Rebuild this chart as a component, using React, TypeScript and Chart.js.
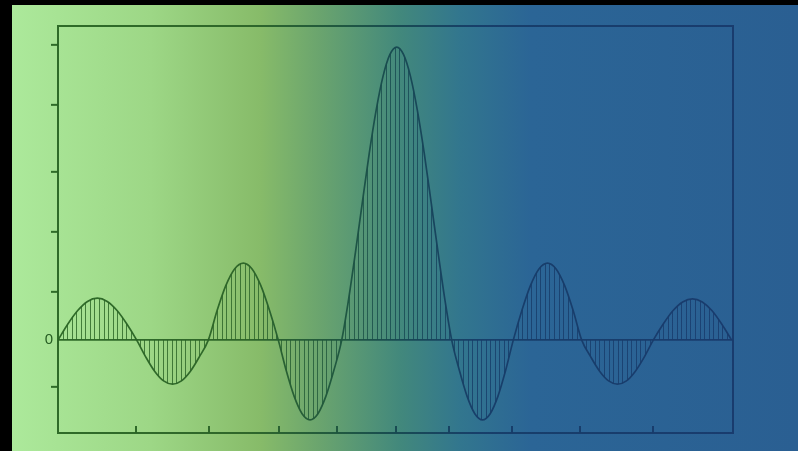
import React, { useEffect, useRef } from 'react';
import { Chart, registerables } from 'chart.js';

Chart.register(...registerables);

// x positions (0..100 across the frame) and curve values (main peak = 1)
const xValues = [
  0, 1.46, 2.92, 4.37, 5.83, 7.29, 8.75, 10.2,
  11.66, 12.99, 14.31, 15.64, 16.97, 18.29, 19.62, 20.94,
  22.27, 23.57, 24.86, 26.16, 27.46, 28.75, 30.05, 31.34,
  32.64, 33.81, 34.99, 36.16, 37.34, 38.51, 39.68, 40.86,
  42.03, 43.05, 44.07, 45.09, 46.11, 47.13, 48.15, 49.16, 50.18, 51.2, 52.22, 53.24, 54.26, 55.28, 56.3, 57.31,
  58.33, 59.47, 60.61, 61.75, 62.89, 64.03, 65.17, 66.31,
  67.45, 68.72, 69.99, 71.25, 72.52, 73.79, 75.06, 76.32,
  77.59, 78.92, 80.24, 81.57, 82.89, 84.22, 85.54, 86.87,
  88.19, 89.64, 91.09, 92.54, 94.0, 95.45, 96.9, 98.35, 99.8,
];
const yValues = [
  0, 0.055, 0.101, 0.132, 0.143, 0.132, 0.101, 0.055,
  0, -0.057, -0.106, -0.139, -0.15, -0.139, -0.106, -0.057,
  0, 0.101, 0.186, 0.243, 0.263, 0.243, 0.186, 0.101,
  0, -0.104, -0.192, -0.251, -0.272, -0.251, -0.192, -0.104,
  0, 0.139, 0.3, 0.47, 0.637, 0.784, 0.9, 0.974, 1.0, 0.974, 0.9, 0.784, 0.637, 0.47, 0.3, 0.139,
  0, -0.104, -0.192, -0.251, -0.272, -0.251, -0.192, -0.104,
  0, 0.101, 0.186, 0.243, 0.263, 0.243, 0.186, 0.101,
  0, -0.057, -0.106, -0.139, -0.15, -0.139, -0.106, -0.057,
  0, 0.054, 0.1, 0.13, 0.141, 0.13, 0.1, 0.054, 0,
];
const yTickValues = [-0.16, 0, 0.164, 0.369, 0.573, 0.802, 1.007];
const xTickValues = [11.56, 22.3, 32.74, 41.33, 50.07, 57.93, 67.26, 77.33, 88.15];
const yTickLabel = '0';

const W = 798;
const H = 451;

function inkGradient(ctx: CanvasRenderingContext2D, alpha: number) {
  const g = ctx.createLinearGradient(58, 0, 733, 0);
  g.addColorStop(0, `rgba(40, 100, 34, ${alpha})`);
  g.addColorStop(0.28, `rgba(42, 98, 38, ${alpha})`);
  g.addColorStop(0.42, `rgba(28, 84, 62, ${alpha})`);
  g.addColorStop(0.5, `rgba(22, 72, 80, ${alpha})`);
  g.addColorStop(0.62, `rgba(22, 60, 104, ${alpha})`);
  g.addColorStop(1, `rgba(24, 58, 108, ${alpha})`);
  return g;
}

export default function App() {
  const ref = useRef<HTMLCanvasElement | null>(null);

  useEffect(() => {
    const canvas = ref.current;
    if (!canvas) return;
    const ctx2 = canvas.getContext('2d')!;

    const ink = inkGradient(ctx2, 0.95);

    // hatch pattern: vertical stripes coloured by the same ink gradient
    const pc = document.createElement('canvas');
    pc.width = W;
    pc.height = 4;
    const pctx = pc.getContext('2d')!;
    pctx.fillStyle = inkGradient(pctx, 0.8);
    for (let k = 0; ; k++) {
      const x = Math.round(58 + k * 4.55);
      if (x > 735) break;
      pctx.fillRect(x, 0, 1, 4);
    }
    const hatch = ctx2.createPattern(pc, 'repeat-y');

    const background = {
      id: 'bg',
      beforeDraw(chart: any) {
        const { ctx, width, height } = chart;
        ctx.save();
        ctx.fillStyle = '#000';
        ctx.fillRect(0, 0, width, height);
        const g = ctx.createLinearGradient(12, 0, width, 0);
        g.addColorStop(0, '#ace99b');
        g.addColorStop(0.176, '#9dd786');
        g.addColorStop(0.316, '#87bb69');
        g.addColorStop(0.392, '#6aa46e');
        g.addColorStop(0.494, '#42887c');
        g.addColorStop(0.57, '#32768e');
        g.addColorStop(0.66, '#2b6596');
        g.addColorStop(1, '#2a5f92');
        ctx.fillStyle = g;
        ctx.fillRect(12, 5, width - 12, height - 5);
        ctx.restore();
      },
    };

    const frame = {
      id: 'frame',
      afterDatasetsDraw(chart: any) {
        const { ctx, chartArea } = chart;
        const xs = chart.scales.x;
        ctx.save();
        ctx.strokeStyle = ink;
        ctx.lineWidth = 2;
        ctx.strokeRect(chartArea.left, chartArea.top, chartArea.right - chartArea.left, chartArea.bottom - chartArea.top);
        for (const v of xTickValues) {
          const px = Math.round(xs.getPixelForValue(v));
          ctx.beginPath();
          ctx.moveTo(px, chartArea.bottom);
          ctx.lineTo(px, chartArea.bottom - 7);
          ctx.stroke();
        }
        ctx.restore();
      },
    };

    const chart = new Chart(canvas, {
      type: 'line',
      data: {
        datasets: [
          {
            data: xValues.map((x, i) => ({ x, y: yValues[i] })),
            borderColor: ink as any,
            borderWidth: 1.7,
            backgroundColor: hatch as any,
            fill: 'origin',
            pointRadius: 0,
            cubicInterpolationMode: 'monotone',
          },
        ],
      },
      options: {
        animation: false,
        responsive: false,
        devicePixelRatio: 1,
        layout: { padding: { left: 0, top: 26, right: 65, bottom: 18 } },
        plugins: { legend: { display: false }, tooltip: { enabled: false } },
        scales: {
          x: {
            type: 'linear',
            min: 0,
            max: 100,
            display: false,
          },
          y: {
            type: 'linear',
            min: -0.317,
            max: 1.072,
            afterBuildTicks(scale: any) {
              scale.ticks = yTickValues.map((v) => ({ value: v }));
            },
            afterFit(scale: any) {
              scale.width = 58;
            },
            border: { display: false },
            grid: {
              drawOnChartArea: true,
              drawTicks: true,
              tickLength: 7,
              tickWidth: 2,
              lineWidth: 1.7,
              color: (c: any) => (c.tick && c.tick.value === 0 ? ink : 'transparent'),
              tickColor: (c: any) => (c.tick && c.tick.value === 0 ? 'transparent' : 'rgba(40, 100, 34, 0.95)'),
            },
            ticks: {
              padding: -2,
              color: 'rgba(38, 92, 34, 1)',
              font: { family: 'Liberation Sans, Arial, sans-serif', size: 15 },
              callback: (v: any) => (v === 0 ? yTickLabel : ''),
            },
          },
        },
      },
      plugins: [background, frame],
    });

    return () => chart.destroy();
  }, []);

  return (
    <div style={{ position: 'absolute', left: 0, top: 0, width: W, height: H }}>
      <canvas ref={ref} width={W} height={H} style={{ display: 'block' }} />
    </div>
  );
}
